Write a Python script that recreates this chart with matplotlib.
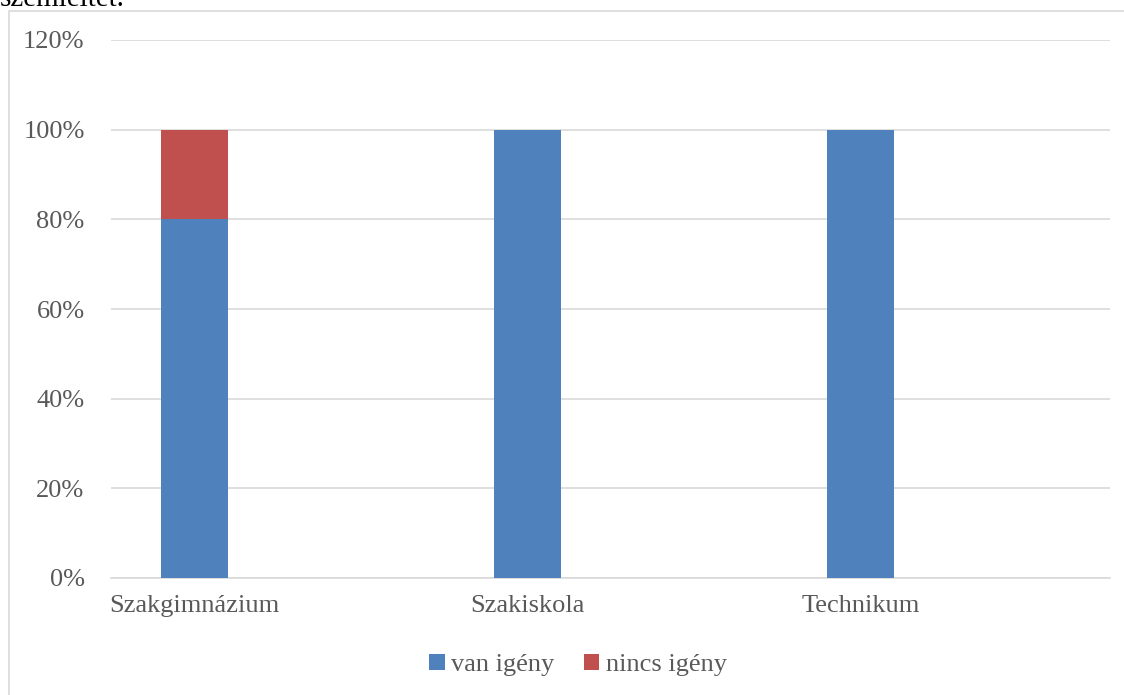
import matplotlib.pyplot as plt
import matplotlib.patches as patches
from matplotlib.ticker import FuncFormatter

# Data
categories = ["Szakgimnázium", "Szakiskola", "Technikum"]
van_igeny = [0.80, 1.00, 1.00]
nincs_igeny = [0.20, 0.00, 0.00]
y_ticks = [0, 0.2, 0.4, 0.6, 0.8, 1.0, 1.2]

plt.rcParams["font.family"] = ["Liberation Serif", "DejaVu Serif"]

W, H = 1124, 695
fig = plt.figure(figsize=(W / 100, H / 100), dpi=100)

# outer chart frame and cut-off document text above it
fig.patches.append(patches.Rectangle((8.5 / W, -0.05), 1.2, 1 - 10.5 / H + 0.05,
                                     transform=fig.transFigure, fill=False,
                                     edgecolor="#D9D9D9", lw=1.2))
fig.text(0.0, 1 - 6 / H, "szemléltet.", fontsize=21, color="black", va="baseline")

ax = fig.add_axes([111 / W, 1 - 578 / H, (1110 - 111) / W, (578 - 40) / H])

x = range(len(categories))
ax.bar(x, van_igeny, width=0.2, color="#4F81BD", label="van igény", zorder=3)
ax.bar(x, nincs_igeny, width=0.2, bottom=van_igeny, color="#C0504D",
       label="nincs igény", zorder=3)

ax.set_xlim(-0.25, 2.75)
ax.set_ylim(0, 1.2)
ax.set_yticks(y_ticks)
ax.yaxis.set_major_formatter(FuncFormatter(lambda v, p: f"{v * 100:.0f}%"))
ax.set_xticks(list(x))
ax.set_xticklabels(categories)
ax.tick_params(axis="both", length=0, labelsize=19, labelcolor="#595959")
ax.tick_params(axis="y", pad=19)
ax.tick_params(axis="x", pad=12)

ax.grid(axis="y", color="#D9D9D9", lw=1.2, zorder=0)
for side in ["top", "right", "left"]:
    ax.spines[side].set_visible(False)
ax.spines["bottom"].set_color("#D9D9D9")
ax.spines["bottom"].set_linewidth(1.2)

fig.legend(loc="center", bbox_to_anchor=(578 / W, 1 - 665 / H), ncol=2,
           frameon=False, fontsize=19, handlelength=0.6, handleheight=0.6,
           handletextpad=0.25, columnspacing=1.1, labelcolor="#595959")

fig.savefig("out.png", dpi=100)
